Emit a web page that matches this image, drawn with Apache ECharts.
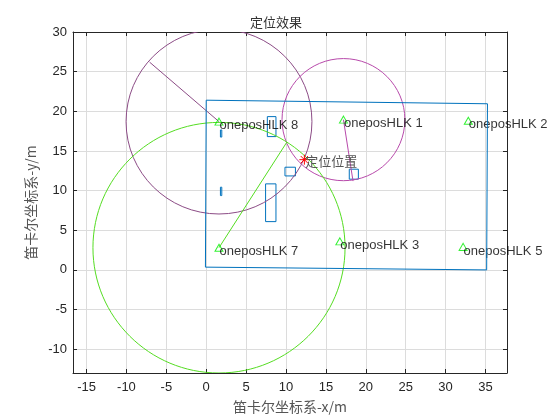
<!DOCTYPE html>
<html>
<head>
<meta charset="utf-8">
<script src="https://cdn.jsdelivr.net/npm/echarts@6/dist/echarts.min.js"></script>
<style>html,body{margin:0;padding:0;background:#fff;}#c{width:560px;height:420px;}</style>
</head>
<body>
<div id="c"></div>
<script>
// ---- data ----
const titleText = '定位效果';
const xAxisName = '笛卡尔坐标系-x/m';
const yAxisName = '笛卡尔坐标系-y/m';
const xTicks = [-15, -10, -5, 0, 5, 10, 15, 20, 25, 30, 35];
const yTicks = [-10, -5, 0, 5, 10, 15, 20, 25, 30];

const anchorNames = ['oneposHLK 1', 'oneposHLK 2', 'oneposHLK 3', 'oneposHLK 5', 'oneposHLK 7', 'oneposHLK 8'];
const anchorX = [17.2, 32.85, 16.75, 32.2, 1.6, 1.6];
const anchorY = [18.95, 18.8, 3.6, 2.9, 2.8, 18.7];

// circles: center x, center y, radius
const circleX = [1.6, 17.2, 1.6];
const circleY = [18.7, 18.95, 2.8];
const circleR = [11.65, 7.7, 15.8];
// radius lines: [x0, y0, x1, y1]
const radiusLines = [
  [1.6, 18.7, -7.1, 26.2],
  [17.2, 18.95, 18.4, 11.2],
  [1.6, 2.8, 10.1, 16.1]
];

// room outline polygon
const roomX = [0.0, 35.25, 35.15, -0.1, 0.0];
const roomY = [21.4, 20.95, 0.0, 0.35, 21.4];

// small obstacles: x1, y1, x2, y2
const obstacles = [
  [7.66, 19.33, 8.74, 16.81],
  [9.87, 12.95, 11.18, 11.85],
  [7.44, 10.85, 8.74, 6.09],
  [17.93, 12.7, 19.07, 11.44],
  [1.78, 17.65, 1.95, 16.75],
  [1.78, 10.43, 1.95, 9.37]
];

const posX = [12.3];
const posY = [13.9];
const posLabel = '定位位置';

// ---- styles ----
const circleColors = ['#8c4c86', '#b84aab', '#55dd22'];
const axisColor = '#262626';
const gridColor = '#dcdcdc';
const blue = '#0072bd';

const chart = echarts.init(document.getElementById('c'), null, {renderer: 'canvas'});

function axisBase(extra) {
  return Object.assign({
    type: 'value',
    axisLine: {show: true, onZero: false, lineStyle: {color: axisColor, width: 1}},
    axisTick: {show: true, inside: true, length: 4, lineStyle: {color: axisColor}},
    splitLine: {show: false}
  }, extra);
}

const labelFont = {color: axisColor, fontSize: 13, fontFamily: 'Liberation Sans, Arial, sans-serif'};
const nameFont = {color: '#555', fontSize: 14, fontFamily: 'Noto Sans CJK SC, sans-serif'};

const option = {
  animation: false,
  backgroundColor: '#fff',
  title: {
    text: titleText, left: 271, top: 11, textAlign: 'center',
    textStyle: {color: '#333', fontSize: 13, fontWeight: 'normal', fontFamily: 'Noto Sans CJK SC, sans-serif'}
  },
  grid: {left: 73, right: 53, top: 32, bottom: 47, containLabel: false},
  xAxis: [
    axisBase({
      min: -16.7, max: 37.7, position: 'bottom',
      axisTick: {show: true, inside: true, length: 4, customValues: xTicks, lineStyle: {color: axisColor}},
      axisLabel: Object.assign({customValues: xTicks, margin: 8}, labelFont),
      splitLine: {show: true, lineStyle: {color: gridColor, width: 1}},
      name: xAxisName, nameLocation: 'middle', nameGap: 27, nameTextStyle: nameFont
    }),
    axisBase({
      min: -16.7, max: 37.7, position: 'top',
      axisTick: {show: true, inside: true, length: 4, customValues: xTicks, lineStyle: {color: axisColor}},
      axisLabel: {show: false}
    })
  ],
  yAxis: [
    axisBase({
      min: -13, max: 30, position: 'left',
      axisTick: {show: true, inside: true, length: 4, customValues: yTicks, lineStyle: {color: axisColor}},
      axisLabel: Object.assign({customValues: yTicks, margin: 6}, labelFont),
      splitLine: {show: true, lineStyle: {color: gridColor, width: 1}},
      name: yAxisName, nameLocation: 'middle', nameGap: 32, nameRotate: 90, nameTextStyle: nameFont
    }),
    axisBase({
      min: -13, max: 30, position: 'right',
      axisTick: {show: true, inside: true, length: 4, customValues: yTicks, lineStyle: {color: axisColor}},
      axisLabel: {show: false}
    })
  ],
  series: [
    {
      type: 'line', name: 'room', silent: true,
      data: roomX.map((x, i) => [x, roomY[i]]),
      symbol: 'none', lineStyle: {color: blue, width: 1}
    },
    {
      type: 'custom', name: 'obstacles', silent: true,
      data: obstacles,
      renderItem: function (params, api) {
        const p1 = api.coord([api.value(0), api.value(1)]);
        const p2 = api.coord([api.value(2), api.value(3)]);
        return {
          type: 'rect',
          shape: {x: Math.min(p1[0], p2[0]), y: Math.min(p1[1], p2[1]),
                  width: Math.abs(p2[0] - p1[0]), height: Math.abs(p2[1] - p1[1])},
          style: {fill: 'none', stroke: blue, lineWidth: 1}
        };
      }
    },
    {
      type: 'custom', name: 'circles', silent: true, clip: true,
      data: circleX.map((x, i) => [x, circleY[i], circleR[i]]),
      renderItem: function (params, api) {
        const c = api.coord([api.value(0), api.value(1)]);
        const s = api.size([api.value(2), api.value(2)]);
        return {
          type: 'ellipse',
          shape: {cx: c[0], cy: c[1], rx: s[0], ry: s[1]},
          style: {fill: 'none', stroke: circleColors[params.dataIndex], lineWidth: 1}
        };
      }
    },
    {
      type: 'custom', name: 'radii', silent: true,
      data: radiusLines,
      renderItem: function (params, api) {
        const p1 = api.coord([api.value(0), api.value(1)]);
        const p2 = api.coord([api.value(2), api.value(3)]);
        return {
          type: 'line',
          shape: {x1: p1[0], y1: p1[1], x2: p2[0], y2: p2[1]},
          style: {stroke: circleColors[params.dataIndex], lineWidth: 1}
        };
      }
    },
    {
      type: 'scatter', name: 'anchors', silent: true,
      data: anchorX.map((x, i) => [x, anchorY[i], anchorNames[i]]),
      symbol: 'triangle', symbolSize: [8, 7],
      itemStyle: {color: 'rgba(0,0,0,0)', borderColor: '#00ee00', borderWidth: 1},
      label: {
        show: true, position: [5, 8], align: 'left', verticalAlign: 'middle',
        formatter: p => p.data[2],
        color: '#000', fontSize: 13, fontFamily: 'Liberation Sans, Arial, sans-serif'
      }
    },
    {
      type: 'custom', name: 'position', silent: true,
      data: posX.map((x, i) => [x, posY[i]]),
      renderItem: function (params, api) {
        const c = api.coord([api.value(0), api.value(1)]);
        const r = 5, d = 3.6;
        const st = {stroke: '#ff0000', lineWidth: 1};
        return {
          type: 'group',
          children: [
            {type: 'line', shape: {x1: c[0] - r, y1: c[1], x2: c[0] + r, y2: c[1]}, style: st},
            {type: 'line', shape: {x1: c[0], y1: c[1] - r, x2: c[0], y2: c[1] + r}, style: st},
            {type: 'line', shape: {x1: c[0] - d, y1: c[1] - d, x2: c[0] + d, y2: c[1] + d}, style: st},
            {type: 'line', shape: {x1: c[0] - d, y1: c[1] + d, x2: c[0] + d, y2: c[1] - d}, style: st},
            {type: 'text', style: {text: posLabel, x: c[0] + 1, y: c[1] + 1, align: 'left', verticalAlign: 'middle',
              fill: '#555', fontSize: 13, fontFamily: 'Noto Sans CJK SC, sans-serif'}}
          ]
        };
      }
    }
  ]
};
chart.setOption(option);
</script>
</body>
</html>
